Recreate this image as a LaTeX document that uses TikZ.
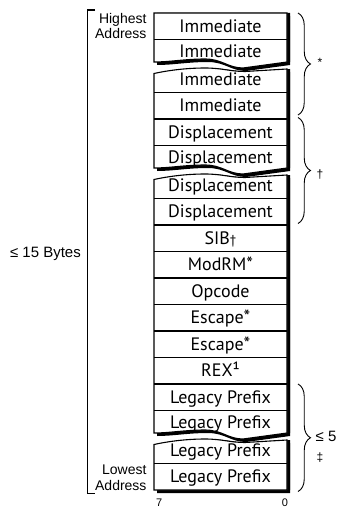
\documentclass[tikz,border=0pt]{standalone}
\usepackage{fontspec}
\setmainfont{Liberation Sans}
\newfontfamily\boxfont{PT Sans}
\usetikzlibrary{decorations.pathreplacing}
% wavy cut: bottom edge of the upper piece (drawn right to left)
\newcommand\upwave[1]{-- (287,#1-4) -- (243,#1+2) .. controls (228,#1+2) and (222,#1-7) .. (205,#1-7) .. controls (185,#1-7) and (170,#1-4) .. (154,#1-4)}
% wavy cut: top edge of the lower piece (drawn left to right)
\newcommand\lowwave[1]{(154,#1+7.5) .. controls (170,#1+4) and (188,#1+2) .. (205,#1+2) .. controls (222,#1+2) and (230,#1+5.5) .. (245,#1+5.5) -- (287,#1+3)}
\newcommand\pieceA{(154,13) -- (287,13) \upwave{66} -- cycle}
\newcommand\pieceB{\lowwave{66} \upwave{172} -- cycle}
\newcommand\pieceC{\lowwave{172} \upwave{437} -- cycle}
\newcommand\pieceD{\lowwave{437} -- (287,490) -- (154,490) -- cycle}
\begin{document}
\begin{tikzpicture}[x=1pt,y=-1pt,
  cell/.style={font=\boxfont\fontsize{18}{18}\selectfont, text height=12.4pt, text depth=0pt, inner sep=0pt},
  piece/.style={fill=white, draw=black, line width=1.1pt, line join=miter},
  shade/.style={fill=black},
  divline/.style={line width=1.1pt},
  side/.style={font=\fontsize{14}{14}\selectfont, inner sep=0pt},
  bigside/.style={font=\fontsize{15}{15}\selectfont, inner sep=0pt},
  smallmark/.style={font=\fontsize{12}{12}\selectfont, inner sep=0pt},
  bitlbl/.style={font=\fontsize{11}{11}\selectfont, inner sep=0pt},
  bracketline/.style={line width=1.1pt},
  bracestyle/.style={decorate, decoration={brace, amplitude=12.5pt}, line width=0.9pt}
]
\useasboundingbox (0,0) rectangle (341,508);

% shadows
\foreach \p in {\pieceA,\pieceB,\pieceC,\pieceD}{
  \fill[shade, shift={(3,3)}] \p;
  \fill[shade, shift={(3,0)}] \p;
}
% pieces
\filldraw[piece] \pieceA;
\filldraw[piece] \pieceB;
\filldraw[piece] \pieceC;
\filldraw[piece] \pieceD;

% row dividers
\foreach \yy in {39.5,92.5,119,145.5,198.5,225,251.5,278,304.5,331,357.5,384,410.5,463.5}{
  \draw[divline] (154,\yy) -- (287,\yy);
}

% cell texts
\node[cell] (r0)  at (220.5,26.25)  {Immediate};
\node[cell] (r1)  at (220.5,51.5)   {Immediate};
\node[cell] (r2)  at (220.5,79.5)   {Immediate};
\node[cell] (r3)  at (220.5,105.75) {Immediate};
\node[cell] (r4)  at (220.5,132.25) {Displacement};
\node[cell] (r5)  at (220.5,157.5)  {Displacement};
\node[cell] (r6)  at (220.5,185.5)  {Displacement};
\node[cell] (r7)  at (220.5,211.75) {Displacement};
\node[cell] (r8)  at (220.5,238.25) {SIB{\fontsize{13}{13}\selectfont†}};
\node[cell] (r9)  at (220.5,264.75) {ModRM{\fontsize{19}{19}\selectfont*}};
\node[cell] (r10) at (220.5,291.25) {Opcode};
\node[cell] (r11) at (220.5,317.75) {Escape{\fontsize{19}{19}\selectfont*}};
\node[cell] (r12) at (220.5,344.25) {Escape{\fontsize{19}{19}\selectfont*}};
\node[cell] (r13) at (220.5,370.75) {REX¹};
\node[cell] (r14) at (220.5,397.25) {Legacy Prefix};
\node[cell] (r15) at (220.5,422.5)  {Legacy Prefix};
\node[cell] (r16) at (220.5,450.5)  {Legacy Prefix};
\node[cell] (r17) at (220.5,476.75) {Legacy Prefix};

% left labels
\node[side, anchor=base east] (hi1) at (146.7,23.3) {Highest};
\node[side, anchor=base east] (hi2) at (146.7,39) {Address};
\node[side, anchor=base east] (lo1) at (146.7,474.3) {Lowest};
\node[side, anchor=base east] (lo2) at (146.7,490.7) {Address};
\node[bigside, anchor=base east] (tot) at (81,257.3) {≤ 15 Bytes};

% left bracket
\coordinate (bt) at (95,10);
\coordinate (bb) at (95,493.3);
\draw[bracketline] (bt) -- ++(-7.7,0) |- (bb);

% right braces
\coordinate (b1t) at (298,13);
\coordinate (b1b) at (298,115);
\coordinate (b2t) at (298,117.5);
\coordinate (b2b) at (298,223.5);
\coordinate (b3t) at (298,384);
\coordinate (b3b) at (298,491.5);
\draw[bracestyle] (b1t) -- (b1b);
\draw[bracestyle] (b2t) -- (b2b);
\draw[bracestyle] (b3t) -- (b3b);
\node[smallmark, anchor=base] (m1) at (320,66.5) {*};
\node[smallmark, anchor=base] (m2) at (320,178) {†};
\node[bigside, anchor=base west] (m3) at (315.5,441.7) {≤ 5};
\node[smallmark, anchor=base] (m4) at (320,461) {‡};

% bit numbers
\node[bitlbl, anchor=base] (bit7) at (159.3,506) {7};
\node[bitlbl, anchor=base] (bit0) at (285,506) {0};
\end{tikzpicture}
\end{document}
